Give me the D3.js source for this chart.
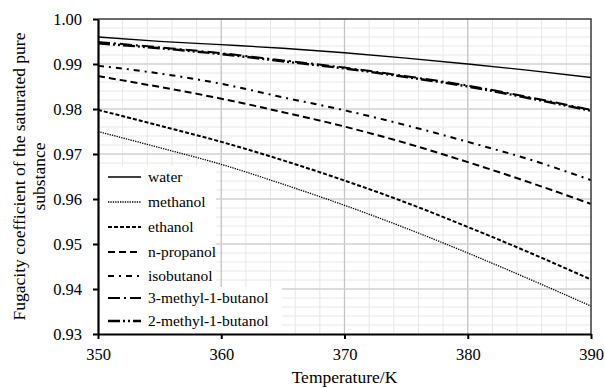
<!DOCTYPE html>
<html>
<head>
<meta charset="utf-8">
<script src="https://cdn.jsdelivr.net/npm/d3@7"></script>
<style>
  html, body { margin: 0; padding: 0; background: #fff; }
  svg { display: block; }
  text { font-family: "Liberation Serif", "Times New Roman", serif; fill: #000; }
</style>
</head>
<body>
<svg id="chart" width="605" height="388"></svg>
<script>
// ---- data ----
const temperatures = [350, 355, 360, 365, 370, 375, 380, 385, 390];
const seriesNames = ["water", "methanol", "ethanol", "n-propanol", "isobutanol", "3-methyl-1-butanol", "2-methyl-1-butanol"];
const water      = [0.9960, 0.99505, 0.9943, 0.9935, 0.9925, 0.9913, 0.9900, 0.9886, 0.9870];
const methanol   = [0.9750, 0.9714, 0.9677, 0.9633, 0.9586, 0.9535, 0.9480, 0.9422, 0.9362];
const ethanol    = [0.9798, 0.9763, 0.9727, 0.9686, 0.9641, 0.9592, 0.9538, 0.9481, 0.9421];
const nPropanol  = [0.9873, 0.9849, 0.9823, 0.9793, 0.9761, 0.9724, 0.9682, 0.9637, 0.9589];
const isobutanol = [0.9896, 0.9879, 0.9856, 0.9826, 0.9797, 0.9764, 0.9727, 0.9688, 0.9642];
const methyl3    = [0.9949, 0.9937, 0.9924, 0.9908, 0.9892, 0.9873, 0.9852, 0.9826, 0.9798];
const methyl2    = [0.9946, 0.9935, 0.9922, 0.9906, 0.9890, 0.9871, 0.9850, 0.9824, 0.9796];
const xTicks = [350, 360, 370, 380, 390];
const yTicks = [0.93, 0.94, 0.95, 0.96, 0.97, 0.98, 0.99, 1.00];
const xTitle = "Temperature/K";
const yTitleLines = ["Fugacity coefficient of the saturated pure", "substance"];

// ---- styles ----
const seriesValues = [water, methanol, ethanol, nPropanol, isobutanol, methyl3, methyl2];
const dashes = [null, "1.3,1.1", "4,2", "7,4", "6,5,2,5", "12,4,2,4", "12,3,2,3,2,3"];
const widths = [1.3, 1.3, 2, 2, 2, 2, 2.4];

const svg = d3.select("#chart");
const L = 98, R = 591, T = 19, B = 334;
const x = d3.scaleLinear().domain([350, 390]).range([L, R]);
const y = d3.scaleLinear().domain([0.93, 1.00]).range([B, T]);

// minor grid
const g = svg.append("g");
g.selectAll("line.vminor").data(d3.range(352, 390, 2).filter(v => v % 10 !== 0))
  .join("line").attr("x1", d => x(d)).attr("x2", d => x(d)).attr("y1", T).attr("y2", B)
  .attr("stroke", "#e6e6e6").attr("stroke-width", 1);
g.selectAll("line.hminor").data(d3.range(0, 35).map(i => 0.93 + i * 0.002).filter((v, i) => i % 5 !== 0))
  .join("line").attr("x1", L).attr("x2", R).attr("y1", d => y(d)).attr("y2", d => y(d))
  .attr("stroke", "#e8e8e8").attr("stroke-width", 1);
// major grid
g.selectAll("line.vmajor").data(xTicks.slice(1, -1))
  .join("line").attr("x1", d => x(d)).attr("x2", d => x(d)).attr("y1", T).attr("y2", B)
  .attr("stroke", "#c4c4c4").attr("stroke-width", 1.3);
g.selectAll("line.hmajor").data(yTicks.slice(1, -1))
  .join("line").attr("x1", L).attr("x2", R).attr("y1", d => y(d)).attr("y2", d => y(d))
  .attr("stroke", "#d2d2d2").attr("stroke-width", 1.6);

// lines
const line = d3.line().x((d, i) => x(temperatures[i])).y(d => y(d)).curve(d3.curveMonotoneX);
seriesValues.forEach((vals, k) => {
  svg.append("path").attr("d", line(vals)).attr("fill", "none")
    .attr("stroke", "#000").attr("stroke-width", widths[k])
    .attr("stroke-dasharray", dashes[k]);
});

// frame (top, right)
svg.append("path").attr("d", `M${L},${T}H${R}V${B}`).attr("fill", "none")
  .attr("stroke", "#3a3a3a").attr("stroke-width", 1.5);

// axes
const xAxis = d3.axisBottom(x).tickValues(xTicks).tickFormat(d3.format("d")).tickSizeInner(5).tickSizeOuter(0).tickPadding(9);
const yAxis = d3.axisLeft(y).tickValues(yTicks).tickFormat(d3.format(".2f")).tickSizeInner(5).tickSizeOuter(0).tickPadding(11);
const gx = svg.append("g").attr("transform", `translate(0,${B})`).call(xAxis);
const gy = svg.append("g").attr("transform", `translate(${L},0)`).call(yAxis);
[gx, gy].forEach(a => {
  a.select(".domain").attr("stroke", "#000").attr("stroke-width", 2.2);
  a.selectAll(".tick line").attr("stroke", "#000").attr("stroke-width", 2);
  a.selectAll(".tick text").style("font-family", '"Liberation Serif", serif').style("font-size", "16.5px").attr("fill", "#000");
});

// legend
svg.append("rect").attr("x", 100).attr("y", 166).attr("width", 116).attr("height", 122).attr("fill", "#fff");
svg.append("rect").attr("x", 100).attr("y", 287).attr("width", 182).attr("height", 46).attr("fill", "#fff");
const legY = [177, 202, 227, 252, 276, 298, 321];
seriesNames.forEach((name, k) => {
  svg.append("line").attr("x1", 108).attr("x2", 141).attr("y1", legY[k]).attr("y2", legY[k])
    .attr("stroke", "#000").attr("stroke-width", widths[k]).attr("stroke-dasharray", dashes[k]);
  svg.append("text").attr("x", 148).attr("y", legY[k]).attr("dy", "0.33em")
    .style("font-size", "15.5px").text(name);
});

// titles
svg.append("text").attr("x", (L + R) / 2).attr("y", 383).attr("text-anchor", "middle")
  .style("font-size", "17.5px").text(xTitle);
const yt = svg.append("text").attr("transform", `translate(25,${(T + B) / 2}) rotate(-90)`)
  .attr("text-anchor", "middle").style("font-size", "17.5px");
yTitleLines.forEach((t, i) => {
  yt.append("tspan").attr("x", 0).attr("y", i * 20).text(t);
});
</script>
</body>
</html>
